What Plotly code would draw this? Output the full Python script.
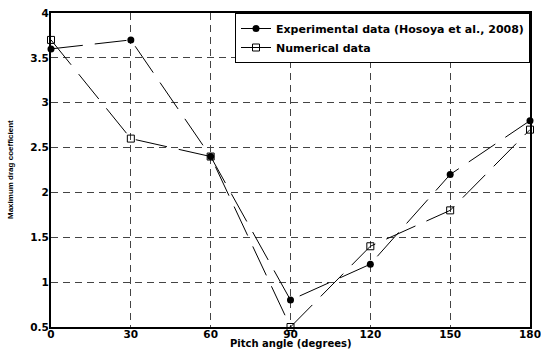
import plotly.graph_objects as go

pitch = [0, 30, 60, 90, 120, 150, 180]
experimental = [3.6, 3.7, 2.4, 0.8, 1.2, 2.2, 2.8]
numerical = [3.7, 2.6, 2.4, 0.5, 1.4, 1.8, 2.7]
x_ticks = [0, 30, 60, 90, 120, 150, 180]
y_ticks = [0.5, 1, 1.5, 2, 2.5, 3, 3.5, 4]
y_tick_text = ["0.5", "1", "1.5", "2", "2.5", "3", "3.5", "4"]

fig = go.Figure()
fig.add_trace(go.Scatter(
    x=pitch, y=experimental, mode="lines+markers",
    name="Experimental data (Hosoya et al., 2008)",
    line=dict(color="black", width=1, dash="32px,12px"),
    marker=dict(symbol="circle", size=7, color="black"),
    cliponaxis=False,
))
fig.add_trace(go.Scatter(
    x=pitch, y=numerical, mode="lines+markers",
    name="Numerical data",
    line=dict(color="black", width=1, dash="32px,12px"),
    marker=dict(symbol="square-open", size=7, color="black", line=dict(width=1)),
    cliponaxis=False,
))

tickfont = dict(family="DejaVu Sans", size=10.5, color="black", weight="bold")
axis_common = dict(
    showline=True, linecolor="black", linewidth=2, mirror=True,
    showgrid=True, gridcolor="#444444", griddash="7px,5px", gridwidth=1,
    ticks="", ticklen=0, zeroline=False, automargin=False,
    ticklabeloverflow="allow",
    tickfont=tickfont,
)

fig.update_layout(
    width=541, height=349,
    margin=dict(l=51, r=11, t=13, b=22),
    paper_bgcolor="white", plot_bgcolor="white",
    font=dict(family="DejaVu Sans", color="black"),
    xaxis=dict(range=[0, 180], tickvals=x_ticks, ticklabelstandoff=-4, **axis_common),
    yaxis=dict(range=[0.5, 4], tickvals=y_ticks, ticktext=y_tick_text,
               ticklabelstandoff=-2, **axis_common),
    legend=dict(x=1, y=1, xanchor="right", yanchor="top",
                bgcolor="white", bordercolor="black", borderwidth=1,
                font=dict(size=11, family="DejaVu Sans", weight="bold"),
                tracegroupgap=0),
    showlegend=True,
    annotations=[
        dict(text="Pitch angle (degrees)", xref="paper", yref="paper",
             x=0.5, y=0, xanchor="center", yanchor="bottom", yshift=-23,
             showarrow=False, borderpad=0,
             font=dict(family="DejaVu Sans", size=10, weight="bold", color="black")),
        dict(text="Maximum drag coefficient", xref="paper", yref="paper",
             x=0, y=0.5, xanchor="center", yanchor="middle", xshift=-41,
             textangle=-90, showarrow=False,
             font=dict(family="Liberation Sans", size=8, weight="bold", color="black")),
    ],
)

fig.write_html(
    "out.html",
    config={"displayModeBar": False},
    post_script="document.body.style.margin='0';document.body.style.overflow='hidden';",
)
